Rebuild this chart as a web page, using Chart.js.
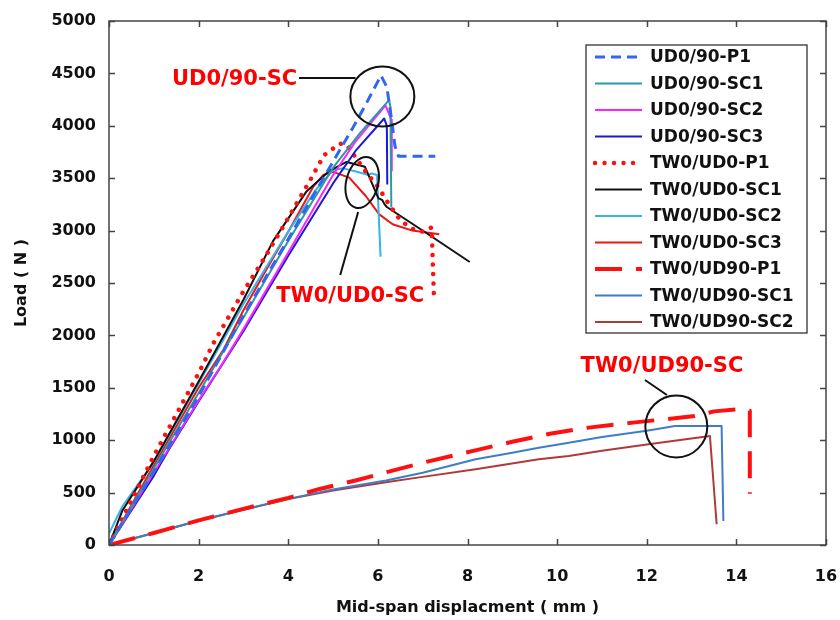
<!DOCTYPE html>
<html>
<head>
<meta charset="utf-8">
<script src="https://cdn.jsdelivr.net/npm/chart.js@4.4.1/dist/chart.umd.min.js"></script>
<style>
  html, body { margin: 0; padding: 0; background: #fff; }
</style>
</head>
<body>
<canvas id="chart" width="840" height="620"></canvas>
<script>
// axis limits / ticks
const xTicks = [0, 2, 4, 6, 8, 10, 12, 14, 16];
const yTicks = [0, 500, 1000, 1500, 2000, 2500, 3000, 3500, 4000, 4500, 5000];

// [displacement mm, load N]
const ud090P1 = [[0, 0], [1, 700], [2, 1420], [2.84, 2070], [3.58, 2615], [4, 2920], [4.5, 3290], [5.18, 3790], [5.44, 3980],
  [5.75, 4220], [6.07, 4480], [6.2, 4370], [6.31, 4050], [6.38, 3810], [6.46, 3710], [7.28, 3710]];
const ud090SC1 = [[0, 0], [1, 730], [2, 1450], [3, 2170], [4, 2900], [5, 3600], [5.6, 3930], [6.25, 4245], [6.28, 4180], [6.3, 3220]];
const ud090SC2 = [[0, 0], [1, 690], [2, 1380], [2.5, 1710], [3, 2060], [4, 2790], [5, 3530], [5.5, 3850], [6.17, 4195],
  [6.3, 4060], [6.31, 3570]];
const ud090SC3 = [[0, 0], [1, 660], [1.32, 900], [2, 1370], [3, 2040], [4, 2760], [5, 3450], [5.5, 3760], [6.14, 4070],
  [6.2, 4000], [6.21, 3440]];
const tw0ud0P1 = [[0, 0], [1, 850], [2, 1640], [2.33, 1925], [3, 2420], [3.5, 2760], [4, 3120], [4.5, 3490], [4.8, 3720],
  [5.15, 3830], [5.3, 3820], [5.5, 3700], [5.75, 3550], [6, 3420], [6.25, 3250], [6.5, 3100], [6.75, 3020], [7, 2990],
  [7.2, 3030], [7.25, 2380], [7.3, 2390]];
const tw0ud0SC1 = [[0, 0], [0.3, 330], [1, 800], [2, 1560], [3, 2340], [3.66, 2900], [4.4, 3370], [4.92, 3570], [5.3, 3655],
  [5.71, 3610], [6.01, 3310], [6.1, 3290], [6.15, 3250], [6.2, 3225], [7.09, 2975], [8.05, 2700]];
const tw0ud0SC2 = [[0, 110], [0.3, 370], [1, 790], [2, 1540], [3, 2300], [4, 2990], [4.6, 3380], [5, 3578], [5.23, 3594],
  [5.53, 3562], [5.79, 3530], [5.86, 3546], [5.98, 3530], [6.06, 2750]];
const tw0ud0SC3 = [[0, 0], [1, 760], [2, 1500], [2.55, 1860], [3, 2240], [3.5, 2620], [4, 2990], [4.56, 3420], [4.78, 3530],
  [5, 3560], [5.36, 3505], [5.73, 3330], [6.03, 3155], [6.33, 3060], [6.77, 3000], [7.37, 2965]];
const tw0ud90P1 = [[0, 0], [1, 115], [2, 235], [3, 345], [4, 450], [4.7, 535], [5.5, 615], [6.2, 695], [7, 785], [8.2, 905],
  [9, 985], [9.84, 1062], [10.7, 1120], [11.74, 1170], [13.07, 1230], [13.5, 1275], [14.04, 1295], [14.3, 1280], [14.3, 490]];
const tw0ud90SC1 = [[0, 0], [1, 115], [2, 232], [3, 338], [4, 440], [5, 530], [6.18, 615], [7, 690], [8.18, 818], [9, 880],
  [9.59, 928], [10.26, 976], [11, 1030], [12, 1090], [12.63, 1135], [13.67, 1135], [13.71, 230]];
const tw0ud90SC2 = [[0, 0], [1, 115], [2, 232], [3, 335], [4.03, 440], [5, 520], [6.18, 598], [7, 650], [8.18, 722], [9.59, 818],
  [10.26, 849], [11, 900], [12, 960], [13.41, 1040], [13.56, 198]];

const seriesLabels = ['UD0/90-P1', 'UD0/90-SC1', 'UD0/90-SC2', 'UD0/90-SC3', 'TW0/UD0-P1', 'TW0/UD0-SC1', 'TW0/UD0-SC2',
  'TW0/UD0-SC3', 'TW0/UD90-P1', 'TW0/UD90-SC1', 'TW0/UD90-SC2'];
const seriesData = [ud090P1, ud090SC1, ud090SC2, ud090SC3, tw0ud0P1, tw0ud0SC1, tw0ud0SC2, tw0ud0SC3, tw0ud90P1, tw0ud90SC1, tw0ud90SC2];

const styles = [
  { color: '#3366ee', width: 3, dash: [10, 6] },
  { color: '#2a9aa3', width: 2 },
  { color: '#ff22ff', width: 2 },
  { color: '#1a1ad0', width: 2 },
  { color: '#ff1010', width: 4.5, dash: [0.01, 9.5], cap: 'round' },
  { color: '#111111', width: 2 },
  { color: '#33b5e8', width: 2 },
  { color: '#ee1515', width: 2 },
  { color: '#ff1010', width: 4, dash: [27, 14] },
  { color: '#3f7dc4', width: 2 },
  { color: '#b03a3a', width: 2 },
];

const annotations = [
  { text: 'UD0/90-SC', tx: 4.2, ty: 4440, align: 'right', cx: 6.1, cy: 4280, rx: 32, ry: 30, rot: 0, from: [4.24, 4455], to: [5.5, 4455] },
  { text: 'TW0/UD0-SC', tx: 3.73, ty: 2369, align: 'left', cx: 5.65, cy: 3459, rx: 16, ry: 26, rot: 0.25, from: [5.16, 2576], to: [5.56, 3178] },
  { text: 'TW0/UD90-SC', tx: 12.34, ty: 1700, align: 'center', cx: 12.66, cy: 1131, rx: 31, ry: 31, rot: 0, from: [11.96, 1574], to: [12.45, 1431] },
];

const FONT = 'DejaVu Sans';

const datasets = seriesData.map((pts, i) => {
  const s = styles[i];
  return {
    label: seriesLabels[i],
    data: pts.map(([x, y]) => ({ x, y })),
    borderColor: s.color,
    backgroundColor: s.color,
    borderWidth: s.width,
    borderDash: s.dash || [],
    borderCapStyle: s.cap || 'butt',
    borderJoinStyle: 'round',
    fill: false,
    pointRadius: 0,
    tension: 0,
  };
});

const framePlugin = {
  id: 'frame',
  afterDatasetsDraw(chart) {
    const { ctx, chartArea: a, scales: { x, y } } = chart;
    ctx.save();
    ctx.strokeStyle = '#444';
    ctx.lineWidth = 1.5;
    ctx.strokeRect(a.left, a.top, a.right - a.left, a.bottom - a.top);
    ctx.beginPath();
    xTicks.forEach((v) => {
      const px = Math.round(x.getPixelForValue(v)) + 0.5;
      ctx.moveTo(px, a.bottom); ctx.lineTo(px, a.bottom - 6);
      ctx.moveTo(px, a.top); ctx.lineTo(px, a.top + 6);
    });
    yTicks.forEach((v) => {
      const py = Math.round(y.getPixelForValue(v)) + 0.5;
      ctx.moveTo(a.left, py); ctx.lineTo(a.left + 6, py);
      ctx.moveTo(a.right, py); ctx.lineTo(a.right - 6, py);
    });
    ctx.stroke();

    // callouts
    ctx.strokeStyle = '#111';
    ctx.lineWidth = 2;
    annotations.forEach((an) => {
      ctx.beginPath();
      ctx.ellipse(x.getPixelForValue(an.cx), y.getPixelForValue(an.cy), an.rx, an.ry, an.rot, 0, Math.PI * 2);
      ctx.stroke();
      ctx.beginPath();
      ctx.moveTo(x.getPixelForValue(an.from[0]), y.getPixelForValue(an.from[1]));
      ctx.lineTo(x.getPixelForValue(an.to[0]), y.getPixelForValue(an.to[1]));
      ctx.stroke();
      ctx.fillStyle = '#ff0000';
      ctx.font = 'bold 21px "' + FONT + '"';
      ctx.textAlign = an.align;
      ctx.textBaseline = 'middle';
      ctx.fillText(an.text, x.getPixelForValue(an.tx), y.getPixelForValue(an.ty));
    });

    // legend box
    const lx = 586, ly = 45, lw = 221, lh = 288;
    ctx.fillStyle = '#fff';
    ctx.fillRect(lx, ly, lw, lh);
    ctx.strokeStyle = '#333';
    ctx.lineWidth = 1.3;
    ctx.strokeRect(lx, ly, lw, lh);
    ctx.font = 'bold 17px "' + FONT + '"';
    ctx.textAlign = 'left';
    ctx.textBaseline = 'middle';
    chart.data.datasets.forEach((ds, i) => {
      const cy = ly + 12 + i * 26.5;
      ctx.save();
      ctx.strokeStyle = ds.borderColor;
      ctx.lineWidth = ds.borderWidth;
      ctx.setLineDash(ds.borderDash);
      ctx.lineCap = ds.borderCapStyle;
      ctx.beginPath();
      ctx.moveTo(lx + 9, cy);
      ctx.lineTo(lx + 56, cy);
      ctx.stroke();
      ctx.restore();
      ctx.fillStyle = '#111';
      ctx.fillText(ds.label, lx + 64, cy + 1);
    });
    ctx.restore();
  },
};

const tickFont = { family: FONT, size: 16, weight: 'bold' };
const titleFont = { family: FONT, size: 16, weight: 'bold' };

new Chart(document.getElementById('chart').getContext('2d'), {
  type: 'line',
  data: { datasets },
  options: {
    responsive: false,
    animation: false,
    layout: { padding: { top: 21, right: 14, left: 0, bottom: 0 } },
    plugins: { legend: { display: false }, tooltip: { enabled: false } },
    scales: {
      x: {
        type: 'linear',
        min: 0,
        max: 16,
        afterBuildTicks: (s) => { s.ticks = xTicks.map((v) => ({ value: v })); },
        ticks: { font: tickFont, color: '#111', padding: 22, maxRotation: 0, callback: (v) => String(v) },
        grid: { display: false, drawTicks: false },
        border: { display: false },
        title: { display: true, text: 'Mid-span displacment ( mm )', font: titleFont, color: '#111', padding: { top: 0, bottom: 3 } },
        afterFit: (s) => { s.height = 75; s.paddingLeft = 0; s.paddingRight = 0; },
      },
      y: {
        type: 'linear',
        min: 0,
        max: 5000,
        afterBuildTicks: (s) => { s.ticks = yTicks.map((v) => ({ value: v })); },
        ticks: { font: tickFont, color: '#111', padding: 13, callback: (v) => String(v) },
        grid: { display: false, drawTicks: false },
        border: { display: false },
        title: { display: true, text: 'Load ( N )', font: titleFont, color: '#111', padding: { top: 12, bottom: 0 } },
        afterFit: (s) => { s.width = 109; s.paddingTop = 0; s.paddingBottom = 0; },
      },
    },
  },
  plugins: [framePlugin],
});
</script>
</body>
</html>
